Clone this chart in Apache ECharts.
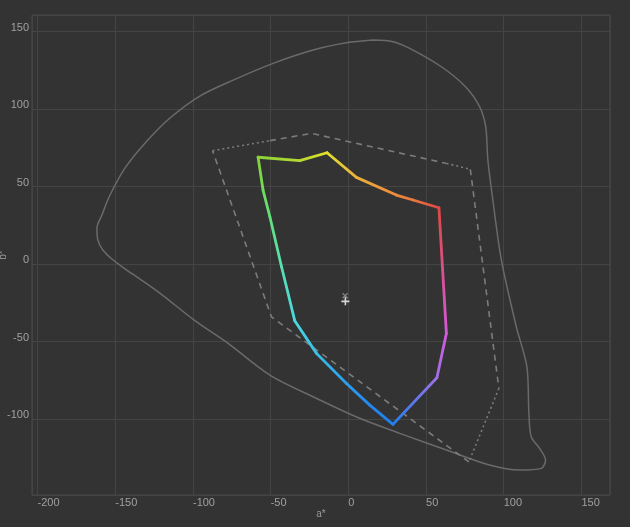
<!DOCTYPE html>
<html><head><meta charset="utf-8">
<script src="https://cdn.jsdelivr.net/npm/echarts@6/dist/echarts.min.js"></script>
<style>html,body{margin:0;padding:0;background:#333333;}#c{width:630px;height:527px;}</style>
</head><body><div id="c"></div>
<script>
// Outer spectral locus (a*, b*)
const locus = [[15.9,144.7],[-1.2,142.9],[-22.7,138.2],[-48.4,129.6],[-74.1,118.8],[-95.6,108.5],[-114.8,94.3],[-130.9,78.1],[-143.8,62.0],[-153.4,44.6],[-158.6,31.7],[-161.8,23.3],[-161.2,15.6],[-158.0,9.1],[-152.2,3.3],[-144.5,-2.5],[-134.1,-9.6],[-121.3,-18.7],[-99.2,-36.1],[-77.4,-51.1],[-50.5,-71.6],[-22.7,-85.6],[7.3,-99.5],[33.1,-109.2],[63.1,-120.0],[90.9,-129.7],[110.2,-132.9],[124.2,-131.8],[126.9,-126.5],[123.1,-118.9],[117.7,-111.4],[116.2,-96.3],[114.9,-66.2],[108.1,-40.4],[98.5,2.6],[93.0,41.4],[89.8,67.2],[88.4,88.7],[84.5,101.6],[75.4,114.5],[59.9,127.4],[39.5,139.3],[28.7,143.6],[15.9,144.7]];
// Reference gamut outline: dashed parts and dotted parts
const refDashed = [[-50.5,79.7],[-23.7,84.4],[63.2,65.0],null,[78.5,61.2],[96.9,-80.2],null,[77.6,-127.6],[-49.5,-34.0],[-87.4,73.2]];
const refDotted = [[-87.4,73.2],[-50.5,79.7],null,[63.2,65.0],[78.5,61.2],null,[96.9,-80.2],[77.6,-127.6]];
// Colored gamut vertices
const gamut = [[-58.1,69.0],[-31.3,66.8],[-13.7,71.9],[5.2,56.0],[30.9,44.6],[41.6,41.4],[58.3,36.4],[63.1,-44.7],[57.0,-73.3],[28.7,-103.4],[13.8,-91.0],[-1.2,-77.0],[-20.5,-57.6],[-34.5,-36.5],[-43.0,-1.7],[-50.5,30.6],[-54.9,47.8],[-58.1,69.0]];
const gamutColors = ['#86d33a','#b8d830','#e4e02c','#ebb03a','#ec8a3c','#e8783e','#df4844','#d45ad8','#a070e8','#1f80f0','#2488ee','#2d9ef0','#38c0e8','#4ad8e0','#58e0b0','#62e07c','#70dc58','#86d33a'];
// White point markers
const whiteCross = [[-2.1,-20.4]];
const whitePlus = [[-1.9,-24.0]];

const chart = echarts.init(document.getElementById('c'), null, {renderer:'canvas'});
const lblFont = "'Liberation Sans Narrow','Liberation Sans',Arial,sans-serif";
const baseSeries = [
  {type:'line', data:locus, showSymbol:false, smooth:0.3, lineStyle:{color:'#6a6a6a', width:1.5}, z:2, silent:true},
  {type:'line', data:refDashed, showSymbol:false, connectNulls:false, lineStyle:{color:'#7c7c7c', width:1.6, type:[6,5]}, z:3, silent:true},
  {type:'line', data:refDotted, showSymbol:false, connectNulls:false, lineStyle:{color:'#7c7c7c', width:1.6, type:[2,3]}, z:3, silent:true},
  {type:'scatter', data:whiteCross, symbol:'path://M0,0L10,10M10,0L0,10', symbolSize:5, itemStyle:{color:'none', borderColor:'#9a9a9a', borderWidth:1.2}, z:6, silent:true},
  {type:'scatter', data:whitePlus, symbol:'path://M5,0L5,10M0,5L10,5', symbolSize:8, itemStyle:{color:'none', borderColor:'#ffffff', borderWidth:1.6}, z:7, silent:true}
];
const option = {
  backgroundColor:'#333333',
  animation:false,
  grid:{left:32, right:20, top:15, bottom:32, containLabel:false, outerBoundsMode:'none', show:true, borderColor:'#4a4a4a', borderWidth:1},
  xAxis:{type:'value', min:-203.6, max:168.4, splitNumber:7, minInterval:50, maxInterval:50,
    name:'a*', nameLocation:'middle', nameGap:14, nameMoveOverlap:false, nameTextStyle:{color:'#9a9a9a', fontSize:10, fontFamily:lblFont},
    axisLine:{show:false}, axisTick:{show:false},
    axisLabel:{color:'#a0a0a0', fontSize:11, fontFamily:lblFont, align:'left', margin:2, showMinLabel:false, showMaxLabel:false},
    splitLine:{lineStyle:{color:'#444444', width:1}}},
  yAxis:{type:'value', min:-149, max:160.8, splitNumber:6, minInterval:50, maxInterval:50,
    name:'b*', nameLocation:'middle', nameGap:24, nameRotate:90, nameMoveOverlap:false, nameTextStyle:{color:'#9a9a9a', fontSize:10, fontFamily:lblFont},
    axisLine:{show:false}, axisTick:{show:false},
    axisLabel:{color:'#a0a0a0', fontSize:11, fontFamily:lblFont, margin:3, verticalAlign:'bottom', lineHeight:8, showMinLabel:false, showMaxLabel:false},
    splitLine:{lineStyle:{color:'#444444', width:1}}},
  series: baseSeries
};
chart.setOption(option);
// colored gamut: one segment per edge with a gradient between vertex colours
const segs = [];
for (let i = 0; i < gamut.length - 1; i++) {
  const p0 = chart.convertToPixel({gridIndex:0}, gamut[i]);
  const p1 = chart.convertToPixel({gridIndex:0}, gamut[i+1]);
  segs.push({type:'line', data:[gamut[i], gamut[i+1]], showSymbol:false, z:5, silent:true,
    lineStyle:{width:2.8, cap:'round', join:'round', color:{type:'linear', x:p0[0], y:p0[1], x2:p1[0], y2:p1[1], global:true,
      colorStops:[{offset:0, color:gamutColors[i]},{offset:1, color:gamutColors[i+1]}]}}});
}
chart.setOption({series: baseSeries.concat(segs)});
</script></body></html>
